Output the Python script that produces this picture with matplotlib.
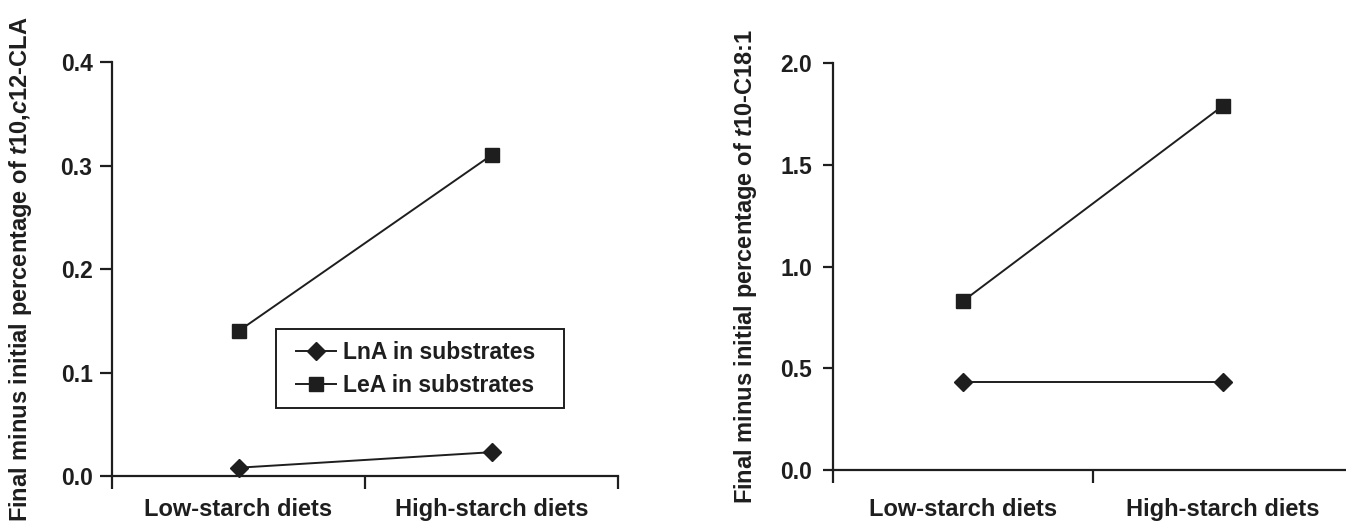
import matplotlib
matplotlib.use("Agg")
import matplotlib.pyplot as plt
from matplotlib.patches import Rectangle
from matplotlib.ticker import FixedLocator, NullFormatter, FixedFormatter

categories = ["Low-starch diets", "High-starch diets"]
series_names = ["LnA in substrates", "LeA in substrates"]
cla_lna = [0.008, 0.023]
cla_lea = [0.140, 0.310]
c181_lna = [0.43, 0.43]
c181_lea = [0.83, 1.79]
left_yticks = [0.0, 0.1, 0.2, 0.3, 0.4]
right_yticks = [0.0, 0.5, 1.0, 1.5, 2.0]

plt.rcParams['font.family'] = ['Liberation Sans', 'DejaVu Sans']
plt.rcParams['font.weight'] = 'bold'
plt.rcParams['mathtext.fontset'] = 'custom'
plt.rcParams['mathtext.it'] = 'Liberation Sans:italic:bold'
plt.rcParams['mathtext.rm'] = 'Liberation Sans:bold'
plt.rcParams['mathtext.bf'] = 'Liberation Sans:bold'

C = '#1e1e1e'
W, H = 1346, 521
fig = plt.figure(figsize=(W / 100, H / 100), dpi=100)

def make_ax(x0, x1, y0, y1):
    return fig.add_axes([x0 / W, 1 - y0 / H, (x1 - x0) / W, (y0 - y1) / H])

LX0, LX1, LY0, LY1 = 112, 618, 476, 62
RX0, RX1, RY0, RY1 = 833, 1353, 470, 63
axL = make_ax(LX0, LX1, LY0, LY1)
axR = make_ax(RX0, RX1, RY0, RY1)

xpos = [0.5, 1.5]

def style(ax, yticks, fmt, ylen, ypad, xpad):
    for s in ['top', 'right']:
        ax.spines[s].set_visible(False)
    for s in ['left', 'bottom']:
        ax.spines[s].set_linewidth(1.6)
        ax.spines[s].set_color(C)
    ax.set_xlim(0, 2)
    ax.set_ylim(yticks[0], yticks[-1])
    ax.set_yticks(yticks)
    ax.set_yticklabels([fmt.format(v) for v in yticks])
    ax.xaxis.set_major_locator(FixedLocator([0, 1, 2]))
    ax.xaxis.set_major_formatter(NullFormatter())
    ax.xaxis.set_minor_locator(FixedLocator(xpos))
    ax.xaxis.set_minor_formatter(FixedFormatter(categories))
    ax.tick_params(axis='x', which='major', direction='out', length=9, width=1.6, color=C)
    ax.tick_params(axis='x', which='minor', length=0, pad=xpad, labelsize=17, labelcolor=C)
    ax.tick_params(axis='y', direction='out', length=ylen, width=1.6, color=C,
                   labelsize=16.5, labelcolor=C, pad=ypad)
    for lab in ax.get_xticklabels(minor=True) + ax.get_yticklabels():
        lab.set_fontweight('bold')

line_kw = dict(color=C, linewidth=1.4, clip_on=False)

axL.plot(xpos, cla_lna, marker='D', markersize=9, label=series_names[0], **line_kw)
axL.plot(xpos, cla_lea, marker='s', markersize=10, label=series_names[1], **line_kw)
style(axL, left_yticks, "{:.1f}", 9, 5, 16)
axL.set_ylabel("Final minus initial percentage of $\\it{t}$10,$\\it{c}$12-CLA",
               fontsize=17, fontweight='bold', color=C)
axL.yaxis.set_label_coords((34 - LX0) / (LX1 - LX0), 0.5)

# legend (frame drawn as a separate rectangle to match proportions)
lw_ = LX1 - LX0
lh_ = LY0 - LY1
leg = axL.legend(loc='center left',
                 bbox_to_anchor=((296 - LX0) / lw_, (LY0 - 369) / lh_),
                 frameon=False, fontsize=16.5, handlelength=1.75,
                 borderpad=0, labelspacing=0.45, handletextpad=0.3, borderaxespad=0)
for t in leg.get_texts():
    t.set_fontweight('bold')
    t.set_color(C)
axL.add_patch(Rectangle(((276 - LX0) / lw_, (LY0 - 408) / lh_),
                        (564 - 276) / lw_, (408 - 329) / lh_,
                        transform=axL.transAxes, fill=False, edgecolor=C,
                        linewidth=1.4, zorder=1, clip_on=False))

axR.plot(xpos, c181_lna, marker='D', markersize=9, **line_kw)
axR.plot(xpos, c181_lea, marker='s', markersize=10, **line_kw)
style(axR, right_yticks, "{:.1f}", 7, 8, 20)
axR.set_ylabel("Final minus initial percentage of $\\it{t}$10-C18:1",
               fontsize=17, fontweight='bold', color=C)
axR.yaxis.set_label_coords((759 - RX0) / (RX1 - RX0), 0.5)

fig.savefig("out.png", dpi=100)
